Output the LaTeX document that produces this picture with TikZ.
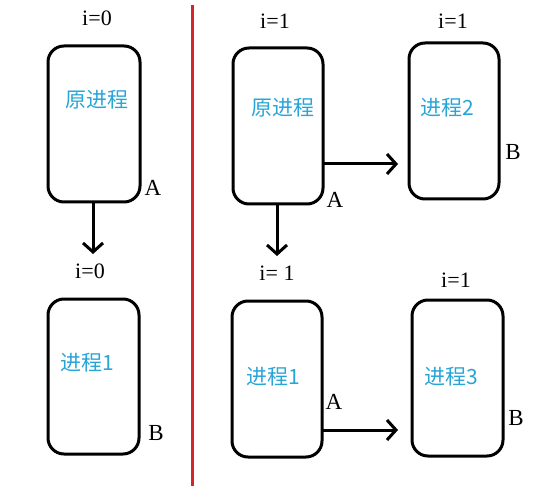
\documentclass[tikz,border=0pt]{standalone}
\usepackage{fontspec}
\setmainfont{Liberation Serif}
\newfontfamily\cjk{Noto Sans CJK SC}
\usetikzlibrary{arrows.meta}
\definecolor{proc}{RGB}{40,165,215}
\definecolor{divred}{RGB}{215,35,45}
\begin{document}
\begin{tikzpicture}[x=1pt,y=-1pt,
  procbox/.style={draw=black,line width=3pt,rounded corners=16pt},
  ptext/.style={text=proc,font=\cjk\fontsize{21}{21}\selectfont,inner sep=0pt},
  ilabel/.style={font=\fontsize{22}{22}\selectfont,inner sep=0pt},
  plabel/.style={font=\fontsize{23}{23}\selectfont,inner sep=0pt},
  arr/.style={line width=3pt,-{Straight Barb[length=9pt,width=20pt,line width=3pt]}}]
\useasboundingbox (0,0) rectangle (548,494);
% boxes
\draw[procbox] (48,46) rectangle (140,202);
\draw[procbox] (48,299) rectangle (139,454);
\draw[procbox] (233,48) rectangle (323,204);
\draw[procbox] (409,43) rectangle (499,199);
\draw[procbox] (232,301) rectangle (322,457);
\draw[procbox] (412,300) rectangle (503,456);
% named anchors for connectors
\coordinate (b1s) at (93,202);
\coordinate (b2n) at (93,254);
\coordinate (b3s) at (277,204);
\coordinate (b5n) at (277,256);
\coordinate (b3e) at (323,164);
\coordinate (b4w) at (398,164);
\coordinate (b5e) at (322,430);
\coordinate (b6w) at (398,430);
% texts
\node[ptext] (t1) at (97,100) {原进程};
\node[ptext] (t2) at (87,363) {进程1};
\node[ptext] (t3) at (283,108) {原进程};
\node[ptext] (t4) at (447,108) {进程2};
\node[ptext] (t5) at (273,377) {进程1};
\node[ptext] (t6) at (451,377) {进程3};
\node[ilabel] (i1) at (97,18) {i=0};
\node[ilabel] (i2) at (90,271) {i=0};
\node[ilabel] (i3) at (275,21) {i=1};
\node[ilabel] (i4) at (453,21) {i=1};
\node[ilabel] (i5) at (277,273) {i=\ 1};
\node[ilabel] (i6) at (456,280) {i=1};
\node[plabel] (a1) at (153,188) {A};
\node[plabel] (bb2) at (156,433) {B};
\node[plabel] (a3) at (335,200) {A};
\node[plabel] (bb4) at (513,152) {B};
\node[plabel] (a5) at (334,402) {A};
\node[plabel] (bb6) at (516,418) {B};
% arrows
\draw[arr] (b1s) -- (b2n);
\draw[arr] (b3s) -- (b5n);
\draw[arr] (b3e) -- (b4w);
\draw[arr] (b5e) -- (b6w);
% divider
\coordinate (d1) at (192,5);
\coordinate (d2) at (192,486);
\draw[divred,line width=3pt] (d1) -- (d2);
\end{tikzpicture}
\end{document}
